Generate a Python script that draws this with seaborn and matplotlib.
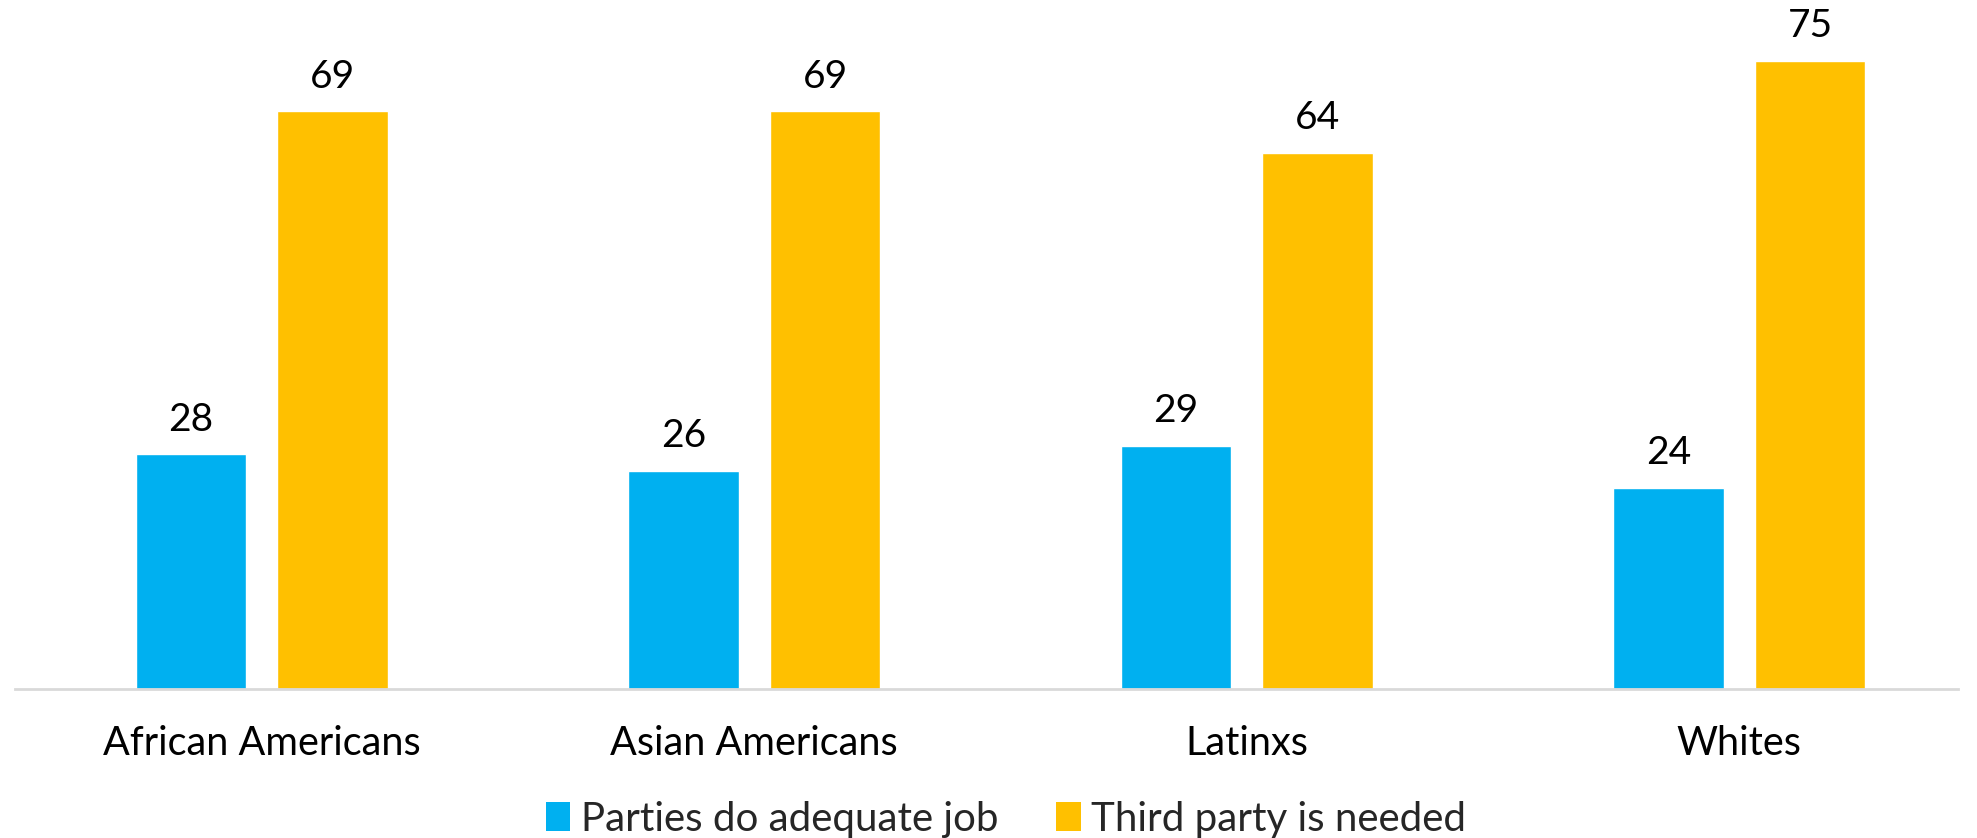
import matplotlib
matplotlib.use("Agg")
import matplotlib.pyplot as plt
import seaborn as sns
import pandas as pd
from matplotlib.patches import Patch

categories = ["African Americans", "Asian Americans", "Latinxs", "Whites"]
series_names = ["Parties do adequate job", "Third party is needed"]
adequate = [28, 26, 29, 24]
third_party = [69, 69, 64, 75]
colors = ["#00B0F0", "#FFC000"]

df = pd.DataFrame({
    "group": categories * 2,
    "series": [series_names[0]] * 4 + [series_names[1]] * 4,
    "value": adequate + third_party,
})

sns.set_theme(style="white")
plt.rcParams["font.family"] = ["Lato", "DejaVu Sans"]

fig = plt.figure(figsize=(19.77, 8.38), dpi=100)
ax = fig.add_axes([15 / 1977, 1 - 688.7 / 838, 1943 / 1977, 688.7 / 838])

sns.barplot(data=df, x="group", y="value", hue="series", order=categories,
            hue_order=series_names, palette=colors, width=0.575, gap=0.22,
            saturation=1, ax=ax, legend=False)

for cont in ax.containers:
    ax.bar_label(cont, fmt="%d", padding=12, fontsize=28, color="black")

ax.set_ylim(0, 688.7 / 8.37)
ax.set_xlim(-0.5007, 3.444)
ax.set_xlabel("")
ax.set_ylabel("")
ax.set_yticks([])
ax.tick_params(axis="x", length=0, labelsize=28.5, pad=26, colors="black")
for s in ["top", "left", "right"]:
    ax.spines[s].set_visible(False)
ax.spines["bottom"].set_color("#D9D9D9")
ax.spines["bottom"].set_linewidth(2)

handles = [Patch(facecolor=c, edgecolor="none") for c in colors]
fig.legend(handles, series_names, loc="center", bbox_to_anchor=(1006 / 1977, 1 - 819 / 838),
           ncol=2, frameon=False, fontsize=29, handlelength=0.6, handleheight=0.75,
           handletextpad=0.25, columnspacing=1.45, borderaxespad=0, borderpad=0)

fig.savefig("out.png", dpi=100)
